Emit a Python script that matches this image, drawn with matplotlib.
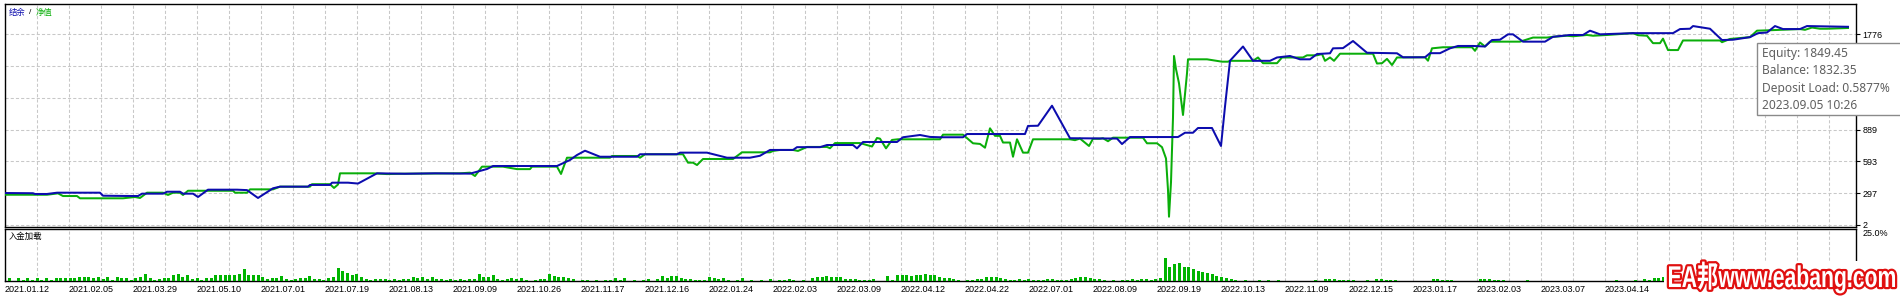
import numpy as np
import matplotlib
matplotlib.use("Agg")
import matplotlib.pyplot as plt
from matplotlib.patches import Rectangle, PathPatch
from matplotlib.textpath import TextPath
from matplotlib.font_manager import FontProperties
from matplotlib.transforms import Affine2D, IdentityTransform

# balance / equity curves, x = deal index along the tester axis
blue_x = [0, 28, 30, 42, 52, 95, 98, 118, 133, 137, 158, 162, 175, 178, 188, 193, 203, 232, 242, 253,
          268, 275, 303, 305, 325, 327, 343, 353, 372, 400, 430, 465, 482, 488, 552, 565, 572, 580, 595, 632,
          635, 672, 675, 702, 722, 745, 755, 765, 788, 792, 815, 822, 848, 852, 858, 892, 898, 915, 925, 935,
          958, 962, 1020, 1023, 1033, 1047, 1065, 1112, 1117, 1125, 1173, 1180, 1188, 1193, 1207, 1216, 1220, 1225, 1238, 1248,
          1265, 1272, 1285, 1295, 1305, 1312, 1325, 1328, 1338, 1348, 1362, 1392, 1398, 1420, 1425, 1435, 1445, 1453, 1468, 1480,
          1487, 1495, 1503, 1508, 1518, 1540, 1548, 1565, 1578, 1585, 1595, 1628, 1668, 1675, 1685, 1688, 1705, 1717, 1728, 1745,
          1753, 1762, 1770, 1778, 1795, 1802, 1843]
blue_y = [299, 297, 290, 290, 302, 302, 274, 272, 271, 293, 293, 311, 311, 293, 293, 262, 330, 330, 326, 253,
          343, 358, 358, 374, 374, 395, 395, 387, 482, 478, 482, 479, 522, 550, 550, 606, 652, 692, 636, 636,
          659, 659, 674, 674, 627, 627, 645, 699, 699, 725, 725, 745, 745, 714, 773, 773, 817, 838, 820, 817,
          817, 847, 847, 922, 924, 1110, 808, 805, 754, 819, 819, 859, 859, 903, 903, 736, 1102, 1528, 1660, 1527,
          1527, 1558, 1572, 1541, 1541, 1590, 1597, 1643, 1645, 1711, 1602, 1597, 1560, 1560, 1598, 1598, 1643, 1665, 1665, 1660,
          1720, 1723, 1773, 1773, 1705, 1705, 1750, 1767, 1767, 1807, 1773, 1784, 1784, 1822, 1825, 1850, 1825, 1720, 1723, 1747,
          1784, 1790, 1850, 1822, 1822, 1850, 1843]

green_x = [0, 42, 53, 58, 72, 75, 118, 130, 135, 142, 158, 163, 168, 175, 178, 183, 228, 230, 242, 245,
           268, 275, 305, 307, 325, 329, 333, 335, 368, 382, 395, 455, 465, 470, 477, 498, 512, 525, 527, 552,
           556, 562, 605, 607, 632, 635, 640, 678, 683, 688, 692, 698, 728, 737, 765, 768, 775, 788, 793, 802,
           822, 825, 830, 855, 867, 872, 875, 881, 887, 893, 935, 938, 958, 968, 975, 980, 985, 990, 995, 998,
           1005, 1008, 1012, 1018, 1023, 1028, 1065, 1070, 1075, 1084, 1088, 1095, 1098, 1103, 1108, 1138, 1142, 1152, 1157, 1161,
           1163, 1164, 1166, 1168, 1169, 1171, 1174, 1178, 1182, 1183, 1202, 1217, 1223, 1225, 1248, 1253, 1258, 1272, 1277, 1298,
           1302, 1312, 1317, 1320, 1325, 1329, 1335, 1368, 1372, 1377, 1382, 1387, 1392, 1420, 1423, 1427, 1438, 1467, 1470, 1475,
           1480, 1485, 1515, 1528, 1542, 1548, 1562, 1568, 1582, 1588, 1602, 1628, 1633, 1642, 1648, 1655, 1658, 1663, 1673, 1678,
           1715, 1717, 1725, 1745, 1752, 1762, 1795, 1800, 1807, 1815, 1822, 1843]
green_y = [283, 283, 296, 271, 271, 250, 250, 262, 253, 302, 302, 281, 302, 302, 281, 320, 320, 302, 302, 333,
           333, 358, 358, 381, 381, 346, 378, 482, 482, 475, 478, 482, 488, 457, 544, 544, 521, 521, 544, 544,
           476, 627, 627, 643, 643, 627, 659, 659, 581, 581, 559, 615, 615, 677, 677, 690, 699, 699, 690, 727,
           727, 715, 763, 763, 731, 810, 804, 714, 792, 798, 798, 841, 841, 761, 755, 720, 900, 830, 830, 768,
           768, 636, 798, 674, 674, 798, 798, 790, 805, 736, 803, 803, 808, 780, 813, 813, 761, 761, 725, 620,
           327, 79, 400, 1000, 1572, 1450, 1318, 1024, 1411, 1541, 1541, 1519, 1519, 1527, 1527, 1558, 1505, 1505, 1558, 1558,
           1578, 1578, 1590, 1527, 1558, 1527, 1593, 1593, 1502, 1505, 1545, 1488, 1558, 1560, 1528, 1643, 1653, 1653, 1620, 1697,
           1660, 1705, 1705, 1743, 1743, 1750, 1760, 1755, 1767, 1760, 1767, 1784, 1765, 1760, 1691, 1691, 1733, 1627, 1627, 1716,
           1716, 1700, 1730, 1747, 1807, 1810, 1822, 1815, 1836, 1825, 1825, 1832]

# deposit load (%) per bar
load = [1.5, 0, 1.5, 0.5, 1.5, 0.5, 1.5, 0.5, 1.5, 0.5, 1.5, 1.5, 1.5, 1.5, 1.5, 2.2, 2.2, 2.2, 1.8, 2.2,
        1, 2.2, 0.5, 2.2, 1.5, 1.5, 0.5, 1.5, 2.2, 3.7, 1.5, 0.5, 1, 1.5, 1.5, 3.2, 3.7, 2.2, 3.2, 1,
        1.5, 0.5, 1.5, 1.5, 3.2, 3.2, 3.2, 3.2, 3.2, 3.7, 6.2, 3.2, 3.2, 3.2, 2.2, 1, 1.5, 1.5, 2.7, 1,
        0.5, 1, 1.5, 1.5, 2.7, 1, 1, 0.5, 1.5, 2.2, 6.7, 5.2, 4.2, 3.2, 3.7, 2.2, 1, 0.5, 1, 1,
        1, 0.5, 1, 0.5, 1, 1, 2.2, 1.5, 2.2, 1, 2.2, 1, 1, 0.5, 1, 0.5, 1, 0.5, 1, 1,
        3.7, 2.2, 2.2, 3.2,
        1, 0.5, 1, 1.5, 1, 1.5, 0.5, 0, 0.5, 1,
        1, 3.5, 2.5, 2, 2, 1.5, 1, 0, 0.5, 0.5,
        0, 0.5, 0, 0.5, 0.5, 1.5, 0.5, 1.5, 0, 0.5,
        0, 0.5, 1, 0, 1, 2.5, 1.5, 2.5, 2.5, 1.5,
        1, 1, 0.5, 0.5, 0.5, 2, 1.5, 1, 1.5, 0.5,
        0, 0.5, 1.5, 0, 0.5, 0, 0.5, 0, 1, 0,
        0.5, 0.5, 1, 0.5, 0, 0.5, 0, 1.5, 2, 2,
        2.5, 2, 2, 2, 1, 1, 1, 0.5, 0.5, 0.5,
        1, 0, 0, 2.5, 0.5, 3, 3, 3, 2.5, 3,
        3, 3.5, 3, 3, 2, 1.5, 1.5, 1, 0.5, 0,
        0.5, 0.5, 1, 1, 2, 2, 2, 1.5, 1, 0.5,
        0.5, 1, 0.5, 1, 0.5, 0.5, 0.5, 1, 1, 0.5,
        0.5, 0.5, 1, 1.5, 2, 2, 1.5, 1, 1, 0.5,
        0, 0.5, 0, 0.5, 0.5, 1, 0.5, 1, 1, 0.5,
        1, 1.5, 12, 7, 8.5, 9.5, 7, 7, 6, 5,
        4.5, 4, 3.5, 2.5, 2, 1.5, 1, 0.5, 0, 0.5,
        0, 0, 0.5, 0, 0.5, 0, 0.5, 0, 0, 0,
        0, 0, 0, 0, 0.5, 0, 1, 1, 1, 0.5,
        0.5, 0.5, 0.5, 0, 0, 0.5, 0, 1, 1, 0.5,
        0.5, 0.5, 0, 0, 0, 0, 0, 0, 0, 1,
        1, 0.5, 0.5, 0.5, 0, 0, 0, 0, 0, 1,
        1, 1, 0.5, 0.5, 0.5, 0, 0, 0, 0, 0.5,
        0, 0, 0, 0, 0, 0, 0, 0, 0, 0,
        0, 0, 0, 0, 0, 0, 0, 0, 0.5, 0,
        0, 0, 0.5, 0, 1, 0.5, 1.5, 1.5, 2, 2.5,
        2, 1.5, 1, 1, 0.5, 0.5, 0.5, 0, 0, 0,
        0.5, 0.5, 0, 0, 0, 0, 0, 0, 0, 0]

dates = ["2021.01.12", "2021.02.05", "2021.03.29", "2021.05.10", "2021.07.01", "2021.07.19",
         "2021.08.13", "2021.09.09", "2021.10.26", "2021.11.17", "2021.12.16", "2022.01.24",
         "2022.02.03", "2022.03.09", "2022.04.12", "2022.04.22", "2022.07.01", "2022.08.09",
         "2022.09.19", "2022.10.13", "2022.11.09", "2022.12.15", "2023.01.17", "2023.02.03",
         "2023.03.07", "2023.04.14"]
ytick_vals = [2, 297, 593, 889, 1184, 1480, 1776]
tooltip = ["Equity: 1849.45", "Balance: 1832.35", "Deposit Load: 0.5877%", "2023.09.05 10:26"]

BLUE = "#0c0cae"
GREEN = "#0aae0a"
BAR = "#00b400"
GRID = "#c8c8c8"
LAT = "Liberation Sans"
CJK = "Noto Sans CJK SC"

W, H = 1900, 298
fig = plt.figure(figsize=(W / 100, H / 100), dpi=100)


def fx(px):
    return px / W


def fy(py):
    return 1 - py / H


ax = fig.add_axes([fx(4.5), fy(226.5), fx(1851), (226.5 - 4.3) / H])
ax2 = fig.add_axes([fx(4.5), fy(281), fx(1851), (281 - 228.5) / H])

# main panel
ax.plot(green_x, green_y, color=GREEN, lw=1.45, zorder=3)
ax.plot(blue_x, blue_y, color=BLUE, lw=1.45, zorder=4)
ax.set_xlim(-0.5, 1850.5)
ax.set_ylim(-12, 2052)
ax.set_xticks(np.arange(0, 1851, 32))
ax.set_yticks(np.linspace(2, 1776, 7))
ax.set_yticklabels([str(v) for v in ytick_vals], fontfamily=LAT)
ax.yaxis.tick_right()
ax.tick_params(axis="y", direction="out", length=3, width=0.8, pad=2, labelsize=6.5)
ax.tick_params(axis="x", length=0, labelbottom=False)
ax.set_axisbelow(True)
ax.grid(True, color=GRID, linestyle=(0, (3, 2)), linewidth=0.75)

# deposit load panel
bar_x = 4 + 4.7 * np.arange(len(load))
ax2.bar(bar_x, load, width=3, color=BAR, linewidth=0, zorder=3)
ax2.set_xlim(-0.5, 1850.5)
ax2.set_ylim(0, 27)
ax2.set_yticks([25])
ax2.set_yticklabels(["25.0%"], fontfamily=LAT)
ax2.yaxis.tick_right()
ax2.tick_params(axis="y", direction="out", length=0, pad=5, labelsize=6.5)
xt = np.arange(0, 1851, 32)
labs = [dates[i // 2] if i % 2 == 0 and i // 2 < len(dates) else "" for i in range(len(xt))]
ax2.set_xticks(xt)
ax2.set_xticklabels(labs, fontfamily=LAT)
ax2.tick_params(axis="x", length=0, pad=3, labelsize=6.5)
for t in ax2.get_xticklabels():
    t.set_horizontalalignment("left")
ax2.set_axisbelow(True)
ax2.grid(True, axis="x", color=GRID, linestyle=(0, (3, 2)), linewidth=0.75)

for a in (ax, ax2):
    for s in a.spines.values():
        s.set_linewidth(1.0)
        s.set_color("black")

# panel titles
fig.text(fx(8.5), fy(13), "结余", color=BLUE, fontsize=6, family=CJK, va="center")
fig.text(fx(29), fy(13), "/", color="black", fontsize=6, family=LAT, va="center")
fig.text(fx(35.5), fy(13), "净值", color=GREEN, fontsize=6, family=CJK, va="center")
fig.text(fx(8.5), fy(236), "入金加载", color="black", fontsize=6, family=CJK, va="center")

# tooltip
fig.patches.append(Rectangle((fx(1756.5), fy(115)), fx(200), (115 - 42.7) / H,
                             transform=fig.transFigure, facecolor="white",
                             edgecolor="#8a8a8a", linewidth=1.0, zorder=5))
for i, line in enumerate(tooltip):
    fig.text(fx(1762.5), fy(53.5 + 17.3 * i), line, color="#606060", fontsize=8.6,
             family="Noto Sans", va="center", zorder=6)

# watermark: condensed bold text, white fill with red outline
fig.patches.append(Rectangle((fx(1664), 0), fx(240), (298 - 261) / H,
                             transform=fig.transFigure, facecolor="white",
                             edgecolor="none", zorder=5))
fp = FontProperties(family=[LAT, CJK], weight="bold")
tp = TextPath((0, 0), "EA邦www.eabang.com", size=30, prop=fp)
ext = tp.get_extents()
sx = 226 / ext.width
wm = Affine2D().translate(-ext.x0, 0).scale(sx, 1).translate(1669, H - 287).transform_path(tp)
fig.patches.append(PathPatch(wm, transform=IdentityTransform(), facecolor="#e01010",
                             edgecolor="#e01010", linewidth=3.2, joinstyle="round", zorder=6))
fig.patches.append(PathPatch(wm, transform=IdentityTransform(), facecolor="white",
                             edgecolor="none", zorder=7))

fig.savefig("out.png", dpi=100, facecolor="white")
